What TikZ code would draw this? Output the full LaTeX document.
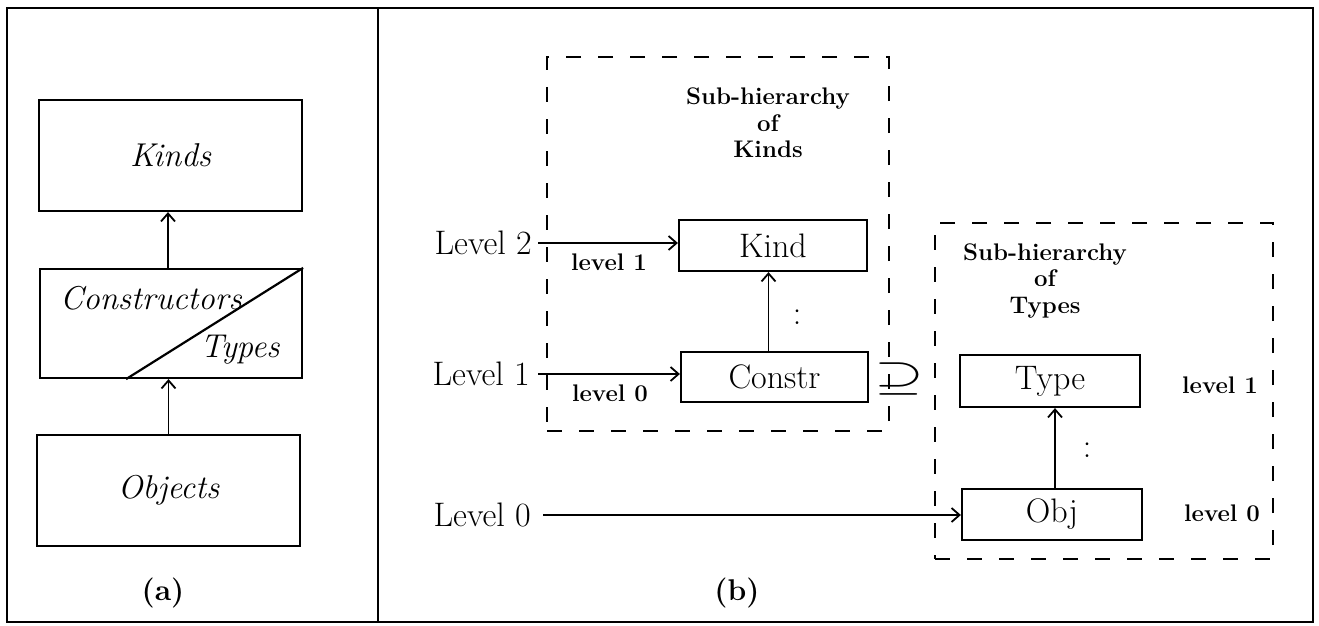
\documentclass[tikz,border=0pt]{standalone}
\usepackage{fontspec}
\usetikzlibrary{arrows.meta,calc}
\begin{document}
\begin{tikzpicture}[x=1pt,y=-1pt,
  box/.style={draw, line width=2.2pt, inner sep=0pt},
  dbox/.style={draw, dash pattern=on 15pt off 17pt, line width=2.2pt, inner sep=0pt},
  arr/.style={-{Straight Barb[length=8pt,width=14pt]}, line width=1.8pt},
  big/.style={font=\fontsize{34}{40}\selectfont\addfontfeature{FakeBold=0.6}},
  it/.style={font=\itshape\fontsize{33}{40}\selectfont\addfontfeature{FakeBold=0.6}},
  sm/.style={font=\bfseries\fontsize{24}{26.5}\selectfont},
  captxt/.style={font=\bfseries\fontsize{30}{36}\selectfont}]
\useasboundingbox (0,0) rectangle (1319,626);
% frame
\draw[line width=2pt] (7,8) rectangle (1313,622);
\draw[line width=2pt] (378,8) -- (378,622);
% ---- panel (a)
\node[box, it, minimum width=263pt, minimum height=111pt] (kinds) at (170.5,155.5) {Kinds};
\node[box, minimum width=262pt, minimum height=109pt] (cons) at (171,323.5) {};
\node[it] (constxt) at (151,298) {Constructors};
\node[it] (typestxt) at (240,350) {Types};
\node[box, it, minimum width=263pt, minimum height=111pt] (objs) at (168.5,490.5) {Objects};
\draw[line width=2.2pt] ($(cons.south west)!0.33!(cons.south east)$) -- (cons.north east);
\draw[arr] ([xshift=-3pt]cons.north) -- ([xshift=-3pt]cons.north |- kinds.south);
\draw[arr] (objs.north) -- (objs.north |- cons.south);
\node[captxt] (capa) at (163,593) {(a)};
% ---- panel (b)
\node[dbox, minimum width=342pt, minimum height=374pt] (skbox) at (718,244) {};
\node[sm, align=center] (skt) at (768,123) {Sub-hierarchy\\of\\Kinds};
\node[box, big, minimum width=188pt, minimum height=51pt] (kind) at (773,245.5) {Kind};
\node[box, big, minimum width=187pt, minimum height=50pt] (constr) at (774.5,377) {Constr};
\draw[arr] ([xshift=-6pt]constr.north) -- ([xshift=-6pt]constr.north |- kind.south);
\node[big] (dots1) at (797,317) {:};
\node[big, anchor=east, inner sep=0pt] (lv2) at (532,243) {Level 2};
\draw[arr] ([xshift=6pt]lv2.east) -- (lv2.east -| kind.west);
\node[sm] (l1a) at (609,262) {level 1};
\node[big, anchor=east, inner sep=0pt] (lv1) at (530,374) {Level 1};
\draw[arr] ([xshift=8pt]lv1.east) -- (lv1.east -| constr.west);
\node[sm] (l0a) at (610,393) {level 0};
\node[inner sep=0pt] (sup) at (899,379) {\scalebox{6.4}[4.2]{$\supseteq$}};
\node[dbox, minimum width=338pt, minimum height=336pt] (stbox) at (1104,391) {};
\node[sm, align=center] (stt) at (1045,281) {Sub-hierarchy\\of\\Types};
\node[box, big, minimum width=180pt, minimum height=52pt] (type) at (1050,381) {Type};
\node[box, big, minimum width=180pt, minimum height=51pt] (obj) at (1052,514.5) {Obj};
\draw[arr] ([xshift=3pt]obj.north) -- ([xshift=3pt]obj.north |- type.south);
\node[big] (dots2) at (1087,450) {:};
\node[sm] (tl1) at (1220,385) {level 1};
\node[sm] (tl0) at (1222,513) {level 0};
\node[big, anchor=east, inner sep=0pt] (lv0) at (531,515) {Level 0};
\draw[arr] ([xshift=12pt]lv0.east) -- (lv0.east -| obj.west);
\node[captxt] (capb) at (737,593) {(b)};
\end{tikzpicture}
\end{document}
